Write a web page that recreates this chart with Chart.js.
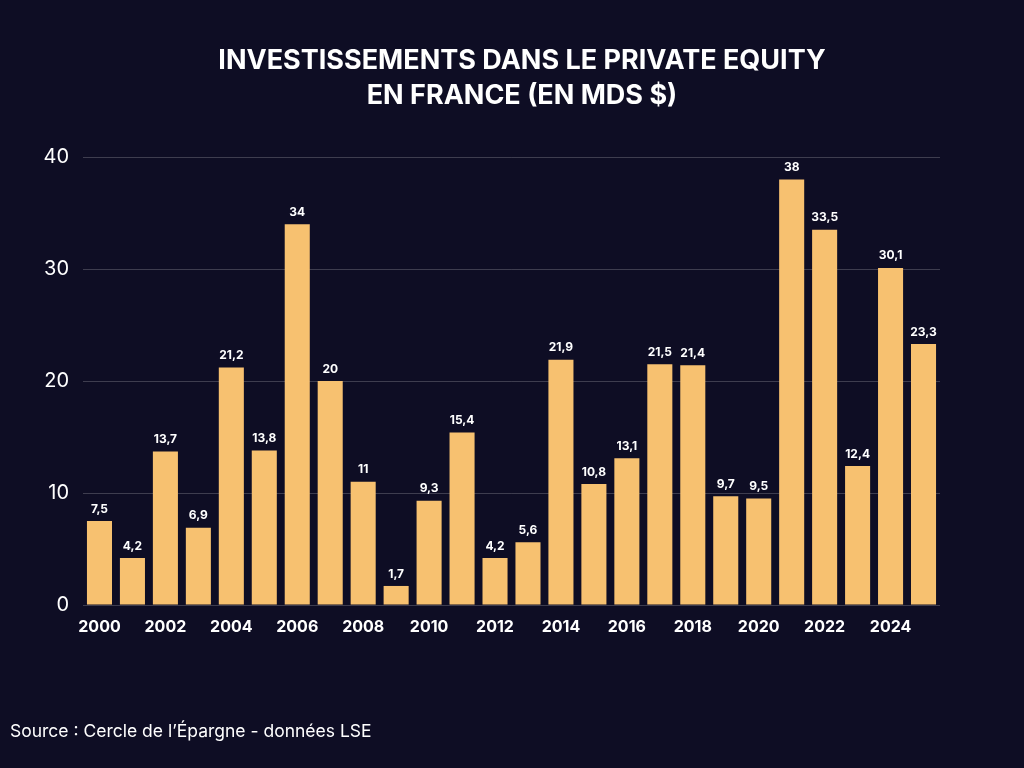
<!DOCTYPE html>
<html lang="fr">
<head>
<meta charset="utf-8">
<title>Investissements dans le private equity en France</title>
<script src="https://cdn.jsdelivr.net/npm/chart.js@4/dist/chart.umd.min.js"></script>
<style>
  html, body { margin: 0; padding: 0; background: #0e0d24; }
  #wrap { position: relative; width: 1024px; height: 768px; }
  #title {
    position: absolute; left: 0; top: 42px; width: 1044px; margin: 0;
    text-align: center; font-family: "Inter", sans-serif; font-weight: bold;
    font-size: 27px; line-height: 35px; color: #ffffff;
  }
  #source {
    position: absolute; left: 10px; top: 720px;
    font-family: "Inter", sans-serif; font-size: 17.5px; color: #ffffff;
  }
</style>
</head>
<body>
<div id="wrap">
  <canvas id="peChart" width="1024" height="768"></canvas>
  <h1 id="title">INVESTISSEMENTS DANS LE PRIVATE EQUITY<br>EN FRANCE (EN MDS $)</h1>
  <div id="source">Source : Cercle de l’Épargne - données LSE</div>
</div>
<script>
// ====================
// Données
// ====================
const years = ["2000", "2001", "2002", "2003", "2004", "2005", "2006", "2007", "2008", "2009",
               "2010", "2011", "2012", "2013", "2014", "2015", "2016", "2017", "2018", "2019",
               "2020", "2021", "2022", "2023", "2024", "2025"];
const investments = [7.5, 4.2, 13.7, 6.9, 21.2, 13.8, 34, 20, 11, 1.7,
                     9.3, 15.4, 4.2, 5.6, 21.9, 10.8, 13.1, 21.5, 21.4, 9.7,
                     9.5, 38, 33.5, 12.4, 30.1, 23.3];
const yTicks = [0, 10, 20, 30, 40];

// ====================
// Étiquettes au-dessus des barres
// ====================
const barLabels = {
    id: "barLabels",
    afterDatasetsDraw(chart) {
        const ctx = chart.ctx;
        const meta = chart.getDatasetMeta(0);
        ctx.save();
        ctx.fillStyle = "#ffffff";
        ctx.font = "bold 12px Inter, sans-serif";
        ctx.textAlign = "center";
        ctx.textBaseline = "bottom";
        meta.data.forEach((bar, i) => {
            const txt = String(investments[i]).replace(".", ",");
            ctx.fillText(txt, bar.x, bar.y - 6);
        });
        ctx.restore();
    }
};

new Chart(document.getElementById("peChart"), {
    type: "bar",
    data: {
        labels: years,
        datasets: [{
            data: investments,
            backgroundColor: "#f7c170",
            borderWidth: 0,
            barPercentage: 0.76,
            categoryPercentage: 1
        }]
    },
    options: {
        responsive: false,
        animation: false,
        layout: { padding: { left: 0, right: 84, top: 157, bottom: 0 } },
        plugins: {
            legend: { display: false },
            tooltip: { enabled: false },
            title: { display: false }
        },
        scales: {
            x: {
                grid: { display: false },
                border: { display: false },
                ticks: {
                    color: "#ffffff",
                    font: { family: "Inter", size: 16, weight: "bold" },
                    autoSkip: false,
                    maxRotation: 0,
                    padding: 5,
                    callback: (v, i) => (i % 2 === 0 ? years[i] : "")
                },
                afterFit: s => { s.height = 163; }
            },
            y: {
                min: 0,
                max: 40,
                afterBuildTicks: s => { s.ticks = yTicks.map(v => ({ value: v })); },
                grid: { color: "rgba(255,255,255,0.2)", drawTicks: false },
                border: { display: false },
                ticks: {
                    color: "#ffffff",
                    font: { family: "Inter", size: 20 },
                    padding: 14
                },
                afterFit: s => { s.width = 83; }
            }
        }
    },
    plugins: [barLabels]
});
</script>
</body>
</html>
